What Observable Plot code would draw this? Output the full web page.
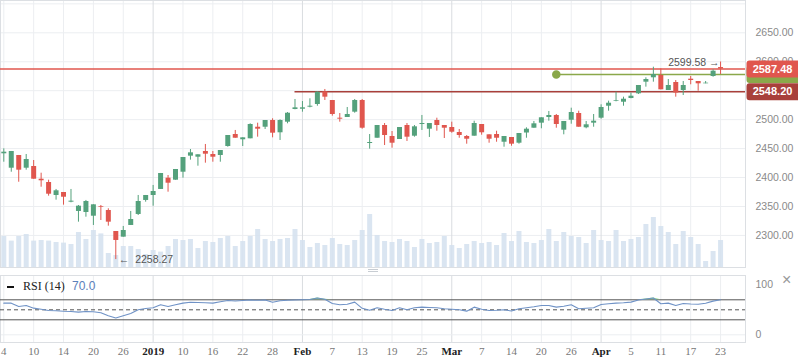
<!DOCTYPE html>
<html><head><meta charset="utf-8">
<script src="https://cdn.jsdelivr.net/npm/d3@7"></script>
<script src="https://cdn.jsdelivr.net/npm/@observablehq/plot@0.6"></script>
<style>
html,body{margin:0;padding:0;background:#fff;overflow:hidden;}
#chart{position:relative;width:798px;height:363px;overflow:hidden;}
#chart svg{position:absolute;left:0;}
.ov{position:absolute;white-space:nowrap;}
</style></head><body><div id="chart"></div>
<script>
// ---------- data ----------
const opens = [2441.0,2416.1,2438.1,2416.1,2419.1,2397.1,2391.4,2369.0,2374.2,2357.4,
 2341.4,2339.6,2333.2,2349.5,2343.1,2306.8,2297.0,2317.2,2336.2,2360.4,
 2369.0,2379.4,2398.9,2395.4,2409.2,2436.9,2435.1,2445.0,2439.8,2438.1,
 2453.6,2474.3,2465.2,2466.9,2486.9,2486.9,2498.5,2477.3,2495.6,2517.5,
 2518.0,2521.5,2526.2,2548.0,2533.1,2502.5,2503.7,2512.9,2533.1,2458.8,
 2467.9,2489.9,2470.9,2465.7,2489.9,2471.4,2491.6,2483.5,2498.5,2489.9,
 2486.4,2477.8,2470.9,2471.4,2491.6,2473.8,2474.3,2461.0,2469.2,2459.3,
 2476.9,2485.2,2493.9,2503.7,2507.2,2481.8,2499.0,2510.6,2485.9,2493.9,
 2502.5,2523.2,2531.9,2530.1,2536.5,2544.6,2564.7,2572.3,2576.3,2550.3,
 2564.2,2550.3,2569.9,2565.9,2561.9,2574.5,2590.0];
const highs = [2449.6,2445.0,2438.1,2439.8,2429.4,2407.5,2395.4,2379.4,2374.2,2379.4,
 2351.7,2360.4,2352.9,2351.7,2346.0,2306.8,2315.5,2341.4,2369.0,2369.0,
 2386.3,2407.0,2403.5,2413.9,2434.6,2448.4,2439.3,2457.1,2445.0,2446.7,
 2472.6,2481.3,2468.6,2492.8,2493.9,2498.5,2501.5,2499.7,2512.3,2534.8,
 2531.3,2536.0,2548.2,2552.1,2533.1,2510.6,2521.0,2534.8,2534.8,2474.3,
 2489.9,2493.3,2479.5,2486.4,2493.3,2489.9,2507.2,2493.3,2502.5,2489.9,
 2495.6,2483.0,2472.6,2497.3,2491.6,2473.8,2480.0,2470.9,2469.2,2476.1,
 2485.9,2496.8,2503.2,2514.1,2508.9,2496.8,2519.8,2514.6,2496.8,2508.9,
 2525.6,2531.9,2547.4,2538.8,2546.0,2559.0,2572.3,2590.6,2587.8,2569.3,
 2567.6,2565.9,2574.5,2565.9,2565.9,2586.1,2599.58];
const lows = [2426.5,2409.2,2391.9,2412.7,2397.1,2383.3,2367.8,2360.9,2352.3,2356.4,
 2322.9,2331.5,2317.2,2325.8,2316.0,2258.27,2297.0,2317.2,2334.4,2357.4,
 2350.5,2379.4,2374.7,2395.4,2398.9,2430.0,2419.6,2424.8,2426.5,2426.5,
 2452.4,2467.9,2453.6,2466.9,2469.7,2483.0,2468.6,2464.0,2492.8,2517.0,
 2512.9,2520.4,2523.2,2533.1,2506.0,2495.6,2503.7,2511.1,2483.5,2449.0,
 2467.9,2455.3,2450.7,2465.7,2462.3,2469.7,2481.3,2469.2,2480.0,2467.4,
 2476.6,2467.9,2457.6,2471.4,2473.1,2459.3,2461.0,2452.4,2454.1,2457.6,
 2467.9,2485.2,2484.2,2497.3,2485.2,2473.8,2492.1,2486.9,2484.2,2486.9,
 2500.8,2514.6,2530.8,2523.2,2536.0,2543.4,2556.1,2564.7,2551.5,2550.3,
 2538.8,2541.7,2560.2,2549.1,2561.9,2573.3,2578.0];
const closes = [2443.8,2445.0,2412.7,2431.2,2397.1,2394.4,2371.2,2377.1,2366.0,2359.2,
 2350.5,2358.6,2352.9,2348.3,2322.9,2291.3,2308.5,2327.5,2358.6,2369.0,
 2375.9,2407.0,2390.2,2413.9,2434.6,2442.7,2439.3,2440.3,2435.1,2446.7,
 2472.6,2467.9,2468.6,2491.6,2483.5,2498.5,2476.6,2498.5,2511.1,2520.4,
 2520.4,2523.2,2547.5,2538.8,2508.9,2500.8,2508.9,2533.1,2485.2,2460.5,
 2489.9,2472.6,2459.3,2486.4,2469.7,2487.6,2493.3,2493.3,2489.9,2485.2,
 2478.3,2472.6,2466.2,2493.3,2477.3,2466.2,2467.9,2470.9,2457.6,2476.1,
 2483.5,2492.8,2503.2,2507.2,2491.6,2496.8,2512.3,2486.9,2491.1,2497.3,
 2521.0,2528.4,2533.1,2535.3,2540.5,2559.0,2569.3,2578.0,2551.5,2559.0,
 2546.0,2559.0,2567.6,2561.9,2563.0,2583.7,2587.48];
const volumes = [1.55,1.32,1.55,1.65,1.32,1.35,1.32,1.25,1.22,1.15,
 1.75,1.4,1.85,1.68,0.7,0.6,1.05,1.05,0.9,0.65,
 0.85,0.77,1.05,1.4,1.35,1.4,0.95,1.3,1.25,1.45,
 1.55,1.05,1.3,1.55,1.9,1.4,1.3,1.4,1.45,1.9,
 1.35,1.0,1.2,1.1,1.45,1.15,1.1,1.35,1.85,2.65,
 1.6,1.3,1.25,1.4,1.3,1.0,1.4,1.2,1.25,1.55,
 1.1,0.95,1.15,1.3,1.2,1.25,1.1,1.7,1.3,1.8,
 1.25,1.2,1.35,1.9,1.3,1.75,1.55,1.5,1.2,1.85,
 1.35,1.3,1.85,1.3,1.4,1.5,2.15,2.5,2.05,1.75,
 1.15,1.8,1.5,1.15,0.3,0.8,1.35];
const rsi14 = [63.3,63.3,56.7,58.7,53.3,51,48.5,48,47,46.5,
 45.3,46.7,46,44,38,33.5,38,42.5,50,52.5,
 54,60,56.7,60,63.3,65,64.5,64,63.3,66,
 68.7,67.5,68.7,69.5,69,69.7,65,68,69,69.7,
 70,70.5,73.5,71,62.5,60,61,65.3,53,49,
 54,51,48.7,54,50,54,55.3,54.5,54,52,
 51,50,47.3,55.3,51,48.7,49,50,47.5,52,
 54,56,58.7,58.7,55.3,57,60,52,53,54,
 60.7,62,63.3,64,65.3,69.5,71.5,73.5,62,63.3,
 58.7,62.5,61.5,61,63,67.3,70.0];
const tickLabels = ["4","10","14","20","26","2019","10","16","22","28","Feb","7","13","19","25","Mar","7","14","20","26","Apr","5","11","17","23"];
const majorLabels = ["2019","Feb","Mar","Apr"];
const tickEvery = 4;
const priceGrid = [2300,2350,2400,2450,2500,2550,2600,2650,2700];
const priceLabels = [2300,2350,2400,2450,2500,2600,2650];
const lastPrice = 2587.48;
const supportLevel = {price: 2548.20, from: 39};
const alertLevel = {price: 2578.0, from: 74};
const rsiBands = [30, 70];
const rsiMid = 50;

// ---------- build ----------
const bars = opens.map((o, i) => ({i, o, h: highs[i], l: lows[i], c: closes[i], v: volumes[i], r: rsi14[i]}));
const up = bars.filter(d => d.c >= d.o), down = bars.filter(d => d.c < d.o);
const ticks = tickLabels.map((t, k) => ({i: k * tickEvery, t, major: majorLabels.includes(t)}));
const xDomain = [-0.442, 99.34];
const W = 798, MR = 53;
const GREEN = "#54a17c", RED = "#e0564e", DARKRED = "#a8403b", OLIVE = "#8aa84a";
const GRID = "#eceef1", GRID2 = "#d9dce0";
const SANS = "Liberation Sans, Arial, sans-serif", SERIF = "Liberation Serif, Times New Roman, serif";
const chart = document.getElementById("chart");
const place = (svg, top) => { svg.style.top = top + "px"; chart.appendChild(svg); };
const base = {width: W, marginLeft: 0, marginRight: MR, style: "background: transparent; overflow: visible; max-width:none;"};
const xs = {type: "linear", domain: xDomain, axis: null};
const yPrice = {type: "linear", domain: [2244.6, 2705.8], axis: null};

const boxSymbol = {draw(ctx) {
  const w = 52, h = 17, r = 3, x0 = 1;
  ctx.moveTo(x0 + r, -h/2); ctx.lineTo(x0 + w + 2, -h/2); ctx.lineTo(x0 + w + 2, h/2);
  ctx.lineTo(x0 + r, h/2); ctx.arcTo(x0, h/2, x0, h/2 - r, r); ctx.lineTo(x0, -h/2 + r);
  ctx.arcTo(x0, -h/2, x0 + r, -h/2, r); ctx.closePath();
}};

// layer 1: grid + price axis
place(Plot.plot({...base, height: 270, marginTop: 0, marginBottom: 3, x: xs, y: yPrice,
  marks: [
    Plot.ruleY(priceGrid, {y: d => d, stroke: GRID}),
    Plot.ruleX(ticks.filter(d => !d.major), {x: "i", stroke: GRID}),
    Plot.ruleX(ticks.filter(d => d.major), {x: "i", stroke: GRID2}),
    Plot.frame({stroke: "#dcdfe3"}),
    Plot.text(priceLabels, {y: d => d, frameAnchor: "right", dx: 10, textAnchor: "start",
      text: d => d.toFixed(2), fill: "#8a8a8a", fontSize: 10.5, fontFamily: SANS})
  ]}), 0);

// layer 2: volume
place(Plot.plot({...base, height: 270, marginTop: 147, marginBottom: 3, x: xs,
  y: {type: "linear", domain: [0, 6], axis: null},
  marks: [
    Plot.ruleX(bars, {x: "i", y1: 0, y2: "v", stroke: "#d3e1ee", strokeOpacity: 0.85, strokeWidth: 5})
  ]}), 0);

// layer 3: candles, levels, labels
place(Plot.plot({...base, height: 270, marginTop: 0, marginBottom: 3, x: xs, y: yPrice,
  marks: [
    Plot.ruleY([lastPrice], {y: d => d, stroke: RED, strokeWidth: 1.3}),
    Plot.ruleY([supportLevel], {y: "price", x1: "from", x2: xDomain[1], stroke: DARKRED, strokeWidth: 1.3}),
    Plot.ruleY([alertLevel], {y: "price", x1: "from", x2: xDomain[1], stroke: OLIVE, strokeWidth: 1.5}),
    Plot.dot([alertLevel], {x: "from", y: "price", r: 3.5, fill: OLIVE, stroke: OLIVE}),
    Plot.ruleX(up, {x: "i", y1: "l", y2: "h", stroke: GREEN, strokeWidth: 1}),
    Plot.ruleX(down, {x: "i", y1: "l", y2: "h", stroke: RED, strokeWidth: 1}),
    Plot.ruleX(up, {x: "i", y1: "o", y2: "c", stroke: GREEN, strokeWidth: 5}),
    Plot.ruleX(down, {x: "i", y1: "o", y2: "c", stroke: RED, strokeWidth: 5}),
    Plot.text([bars[bars.length - 1]], {x: "i", y: "h", text: d => d.h.toFixed(2) + " \u2192", textAnchor: "end", dx: -1, dy: 1,
      fill: "#555", fontSize: 10.5, fontFamily: SANS}),
    Plot.text([bars.reduce((a, b) => b.l < a.l ? b : a)], {x: "i", y: "l", text: d => "\u2190  " + d.l.toFixed(2), textAnchor: "start", dx: 3,
      fill: "#555", fontSize: 10.5, fontFamily: SANS}),
    Plot.dot([alertLevel], {y: "price", frameAnchor: "right", symbol: boxSymbol, fill: OLIVE}),
    Plot.dot([lastPrice], {y: d => d, frameAnchor: "right", symbol: boxSymbol, fill: RED}),
    Plot.dot([supportLevel], {y: "price", frameAnchor: "right", symbol: boxSymbol, fill: DARKRED}),
    Plot.text([lastPrice], {y: d => d, frameAnchor: "right", dx: 27, textAnchor: "middle", text: d => d.toFixed(2), fill: "white", fontWeight: "bold", fontSize: 11, fontFamily: SANS}),
    Plot.text([supportLevel], {y: "price", frameAnchor: "right", dx: 27, textAnchor: "middle", text: d => d.price.toFixed(2), fill: "white", fontWeight: "bold", fontSize: 11, fontFamily: SANS})
  ]}), 0);

// layer 4: RSI pane + date axis
place(Plot.plot({...base, height: 93, marginTop: 5, marginBottom: 21, x: xs,
  y: {type: "linear", domain: [-15.4, 118.6], axis: null},
  marks: [
    Plot.ruleX(ticks.filter(d => !d.major), {x: "i", stroke: GRID}),
    Plot.ruleX(ticks.filter(d => d.major), {x: "i", stroke: GRID2}),
    Plot.ruleY([0], {y: d => d, stroke: GRID}),
    Plot.frame({stroke: "#dcdfe3"}),
    Plot.ruleY(rsiBands, {y: d => d, stroke: "#555", strokeWidth: 1}),
    Plot.ruleY([rsiMid], {y: d => d, stroke: "#555", strokeDasharray: "4,3"}),
    Plot.areaY(bars, {x: "i", y1: rsiBands[1], y2: d => Math.max(d.r, rsiBands[1]), fill: "#6fcf6f", fillOpacity: 0.8}),
    Plot.line(bars, {x: "i", y: "r", stroke: "#6f92c6", strokeWidth: 1.1}),
    Plot.text([0, 100], {y: d => d, frameAnchor: "right", dx: 10, textAnchor: "start", text: d => String(d), fill: "#8a8a8a", fontSize: 10.5, fontFamily: SANS}),
    Plot.text(ticks.filter(d => !d.major), {x: "i", frameAnchor: "bottom", dy: 12, textAnchor: "middle", text: "t", fill: "#777", fontSize: 11, fontFamily: SERIF}),
    Plot.text(ticks.filter(d => d.major), {x: "i", frameAnchor: "bottom", dy: 12, textAnchor: "middle", text: "t", fill: "#222", fontWeight: "bold", fontSize: 11, fontFamily: SERIF})
  ]}), 270);

// overlays: legend, close button, pane handle
const add = (html, css) => { const d = document.createElement("div"); d.className = "ov"; d.innerHTML = html; d.style.cssText += css; chart.appendChild(d); };
add("", "left:7px;top:286px;width:7px;height:2px;background:#111;");
add("RSI (14)", `left:23px;top:279px;font:12px ${SERIF};color:#222;`);
add(rsi14[rsi14.length - 1].toFixed(1), `left:72px;top:279px;font:12px ${SANS};color:#5b80ba;`);
add("\u00d7", `left:782px;top:271px;font:16px ${SANS};color:#999;`);
add("", "left:368px;top:269px;width:10px;height:1px;border-top:1px solid #c8cdd3;border-bottom:1px solid #c8cdd3;");
</script></body></html>
